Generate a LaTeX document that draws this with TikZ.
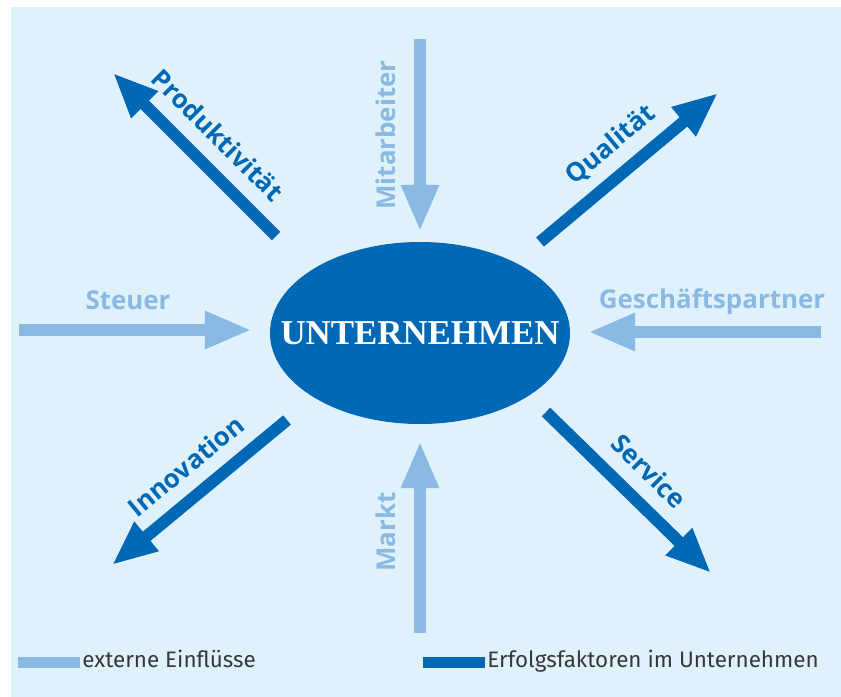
\documentclass[tikz,border=0pt]{standalone}
\usepackage{fontspec}
\setmainfont{Open Sans}
\newfontfamily\firmfont{Liberation Serif}
\newfontfamily\legendfont{Fira Sans}
\usetikzlibrary{arrows.meta,shapes.geometric}

\definecolor{bgblue}{HTML}{DFF1FB}
\definecolor{extblue}{HTML}{8ABAE3}
\definecolor{intblue}{HTML}{0068B4}
\definecolor{legendgray}{HTML}{383838}

\begin{document}
\begin{tikzpicture}[x=1bp,y=-1bp,
    extern/.style={line width=12bp,draw=extblue,-{Triangle[length=47bp,width=35bp]}},
    intern/.style={line width=12bp,draw=intblue,-{Triangle[length=45bp,width=35bp]}},
    extlabel/.style={inner sep=0pt,text=extblue,font=\bfseries\fontsize{26}{30}\selectfont},
    intlabel/.style={inner sep=0pt,text=intblue,font=\bfseries\fontsize{26}{30}\selectfont},
    legendbar/.style={inner sep=0pt,minimum width=62bp,minimum height=11bp},
    legendlabel/.style={inner sep=0pt,anchor=base west,text=legendgray,font=\legendfont\fontsize{22.5}{26}\selectfont}]
    \useasboundingbox (0,0) rectangle (841,697);
    \fill[white] (0,0) rectangle (841,697);
    \fill[bgblue] (11,7) rectangle (841,697);

    \node[ellipse,fill=intblue,minimum width=300bp,minimum height=182bp,inner sep=0pt] (firm) at (420,333) {};
    \node[inner sep=0pt,text=white,font=\firmfont\bfseries\fontsize{35}{40}\selectfont] (firmname) at (firm.center) {UNTERNEHMEN};

    \coordinate (steuerStart) at (19,330);
    \coordinate (partnerStart) at (821,332);
    \coordinate (staffStart) at (420,39);
    \coordinate (marketStart) at (420,633);
    \draw[extern,shorten >=18bp] (steuerStart) -- (steuerStart -| firm.west);
    \draw[extern,shorten >=18bp] (partnerStart) -- (partnerStart -| firm.east);
    \draw[extern,shorten >=10bp] (staffStart) -- (firm.north);
    \draw[extern,shorten >=17bp] (marketStart) -- (firm.south);

    \coordinate (prodStart) at (276,236);
    \coordinate (prodEnd) at (113,73);
    \coordinate (qualStart) at (540,242);
    \coordinate (qualEnd) at (718,93);
    \coordinate (servStart) at (546,412);
    \coordinate (servEnd) at (711,573);
    \coordinate (innoStart) at (287,420);
    \coordinate (innoEnd) at (112,565);
    \draw[intern] (prodStart) -- (prodEnd);
    \draw[intern] (qualStart) -- (qualEnd);
    \draw[intern] (servStart) -- (servEnd);
    \draw[intern] (innoStart) -- (innoEnd);

    \node[extlabel,anchor=base] (steuer) at (128,309) {Steuer};
    \node[extlabel,anchor=base] (partner) at (712,308) {Geschäftspartner};
    \node[extlabel,anchor=base,rotate=90] (staff) at (395,135) {Mitarbeiter};
    \node[extlabel,anchor=base,rotate=90] (market) at (395,532) {Markt};
    \node[intlabel,rotate=-45] (prod) at (218,135) {Produktivität};
    \node[intlabel,rotate=40] (qual) at (611,145) {Qualität};
    \node[intlabel,rotate=-45] (serv) at (649,471) {Service};
    \node[intlabel,rotate=39.5] (inno) at (186,466) {Innovation};

    \node[legendbar,fill=extblue] (extbar) at (49,662) {};
    \node[legendlabel] (extlegend) at ([xshift=2bp]extbar.south east) {externe Einflüsse};
    \node[legendbar,fill=intblue] (intbar) at (454,662) {};
    \node[legendlabel] (intlegend) at ([xshift=2bp]intbar.south east) {Erfolgsfaktoren im Unternehmen};
\end{tikzpicture}
\end{document}
